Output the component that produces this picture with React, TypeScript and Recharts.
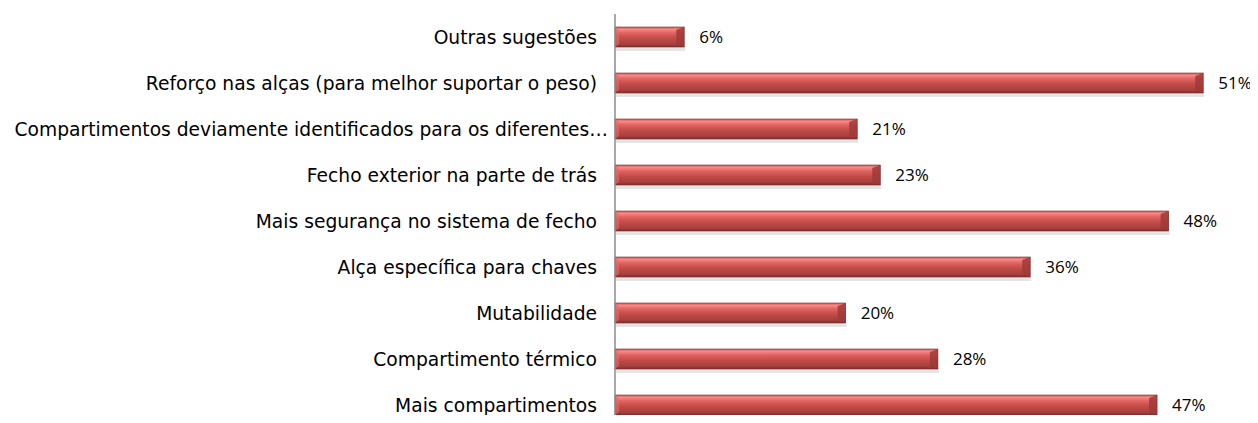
import React from "react";
import { Bar, BarChart, LabelList, XAxis, YAxis } from "recharts";

const categories = [
  "Outras sugestões",
  "Reforço nas alças (para melhor suportar o peso)",
  "Compartimentos deviamente identificados para os diferentes…",
  "Fecho exterior na parte de trás",
  "Mais segurança no sistema de fecho",
  "Alça específica para chaves",
  "Mutabilidade",
  "Compartimento térmico",
  "Mais compartimentos",
];
const percentages = [6, 51, 21, 23, 48, 36, 20, 28, 47];

const data = categories.map((name, i) => ({ name, value: percentages[i] }));

const catFont = "'DejaVu Sans', sans-serif";
const valFont = "'Open Sans', 'Noto Sans', sans-serif";

// truncated labels run a bit further right, like in the original
const CategoryTick = ({ x, y, payload }: any) => {
  const text: string = payload.value;
  const dx = text.endsWith("…") ? 11 : 0;
  return (
    <text x={x + dx} y={y} dy="0.35em" textAnchor="end" fill="#000" fontSize={18.7} fontFamily={catFont}>
      {text}
    </text>
  );
};

const BevelBar = (props: any) => {
  const { x, y, width, height } = props;
  if (!width || width <= 0) return null;
  const b = Math.min(8, width / 2);
  return (
    <g>
      <rect x={x + 1} y={y + height} width={width} height={4} fill="#000" opacity={0.1} />
      <rect x={x} y={y} width={width} height={height} fill="url(#barGrad)" />
      <polygon
        points={`${x + width - b},${y + 3} ${x + width},${y} ${x + width},${y + height} ${x + width - b},${y + height - 3}`}
        fill="#9e3a38"
        opacity={0.85}
      />
      <polygon
        points={`${x},${y} ${x + 4},${y + 3} ${x + 4},${y + height - 3} ${x},${y + height}`}
        fill="#e46a67"
        opacity={0.6}
      />
      <rect x={x} y={y} width={width} height={height} fill="none" stroke="#7a2b29" strokeWidth={0.6} />
    </g>
  );
};

export default function App() {
  return (
    <div style={{ width: 1258, height: 423, overflow: "hidden", margin: -8, background: "#fff" }}>
      <BarChart
        width={1307}
        height={428}
        data={data}
        layout="vertical"
        margin={{ top: 14, right: 0, bottom: 0, left: 0 }}
        barCategoryGap={13}
      >
        <defs>
          <linearGradient id="barGrad" x1="0" y1="0" x2="0" y2="1">
            <stop offset="0%" stopColor="#d85653" />
            <stop offset="12%" stopColor="#f58a88" />
            <stop offset="30%" stopColor="#e06360" />
            <stop offset="55%" stopColor="#c44c49" />
            <stop offset="85%" stopColor="#a8403d" />
            <stop offset="100%" stopColor="#7f2f2d" />
          </linearGradient>
        </defs>
        <XAxis type="number" domain={[0, 60]} hide />
        <YAxis
          type="category"
          dataKey="name"
          width={615}
          axisLine={{ stroke: "#8c8c8c", strokeWidth: 1.5 }}
          tickLine={false}
          tickMargin={12}
          interval={0}
          tick={<CategoryTick />}
        />
        <Bar dataKey="value" barSize={20} shape={<BevelBar />} isAnimationActive={false}>
          <LabelList
            dataKey="value"
            position="right"
            offset={15}
            formatter={(v: any) => `${v}%`}
            style={{ fill: "#000", fontSize: 17, fontFamily: valFont }}
          />
        </Bar>
      </BarChart>
    </div>
  );
}
